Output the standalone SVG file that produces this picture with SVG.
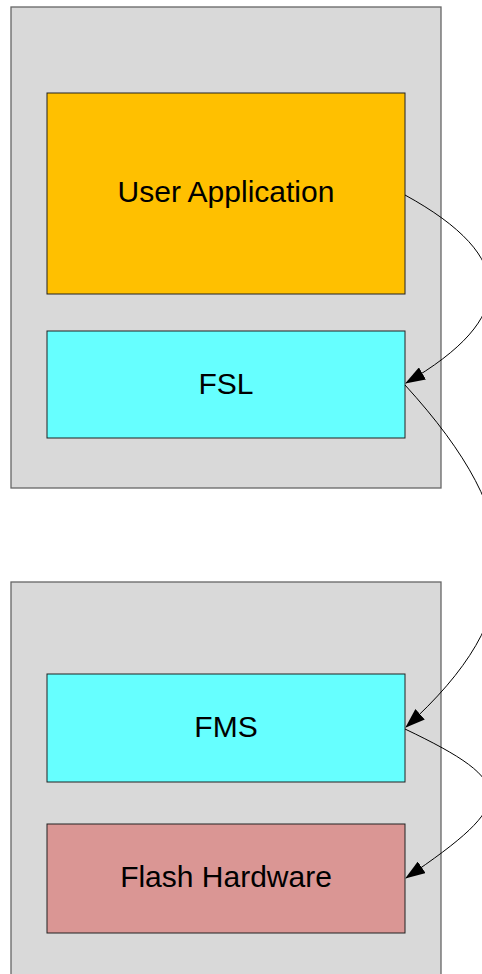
<svg xmlns="http://www.w3.org/2000/svg" width="482" height="974" viewBox="0 0 482 974">
<style>
.grp{fill:#d9d9d9;stroke:#666666;stroke-width:1.3}
.node{stroke:#222222;stroke-width:1}
.lbl{font-family:"Liberation Sans",Arial,sans-serif;font-size:30px;fill:#000;text-anchor:middle}
.conn{fill:none;stroke:#000;stroke-width:1}
</style>
<defs>
<marker id="arr" markerWidth="20" markerHeight="14" refX="19" refY="7" orient="auto" markerUnits="userSpaceOnUse">
<path d="M0,0 L20,7 L0,14 Z" fill="#000"/>
</marker>
</defs>
<rect id="group1" class="grp" x="11" y="7" width="430" height="481"/>
<rect id="group2" class="grp" x="11" y="582" width="430" height="420"/>
<g id="user-application">
<rect class="node" x="47" y="93" width="358" height="201" fill="#ffc000"/>
<text class="lbl" x="226" y="202">User Application</text>
</g>
<g id="fsl">
<rect class="node" x="47" y="331" width="358" height="107" fill="#66ffff"/>
<text class="lbl" x="226" y="394">FSL</text>
</g>
<g id="fms">
<rect class="node" x="47" y="674" width="358" height="108" fill="#66ffff"/>
<text class="lbl" x="226" y="737">FMS</text>
</g>
<g id="flash-hardware">
<rect class="node" x="47" y="824" width="358" height="109" fill="#da9694"/>
<text class="lbl" x="226" y="887">Flash Hardware</text>
</g>
<g id="connectors">
<path class="conn" d="M405,195 C518,257 518,318 406,383" marker-end="url(#arr)"/>
<path class="conn" d="M405,385 C530,522 530,615 406,727" marker-end="url(#arr)"/>
<path class="conn" d="M405,729 C518,783 518,802 406,878" marker-end="url(#arr)"/>
</g>
</svg>
